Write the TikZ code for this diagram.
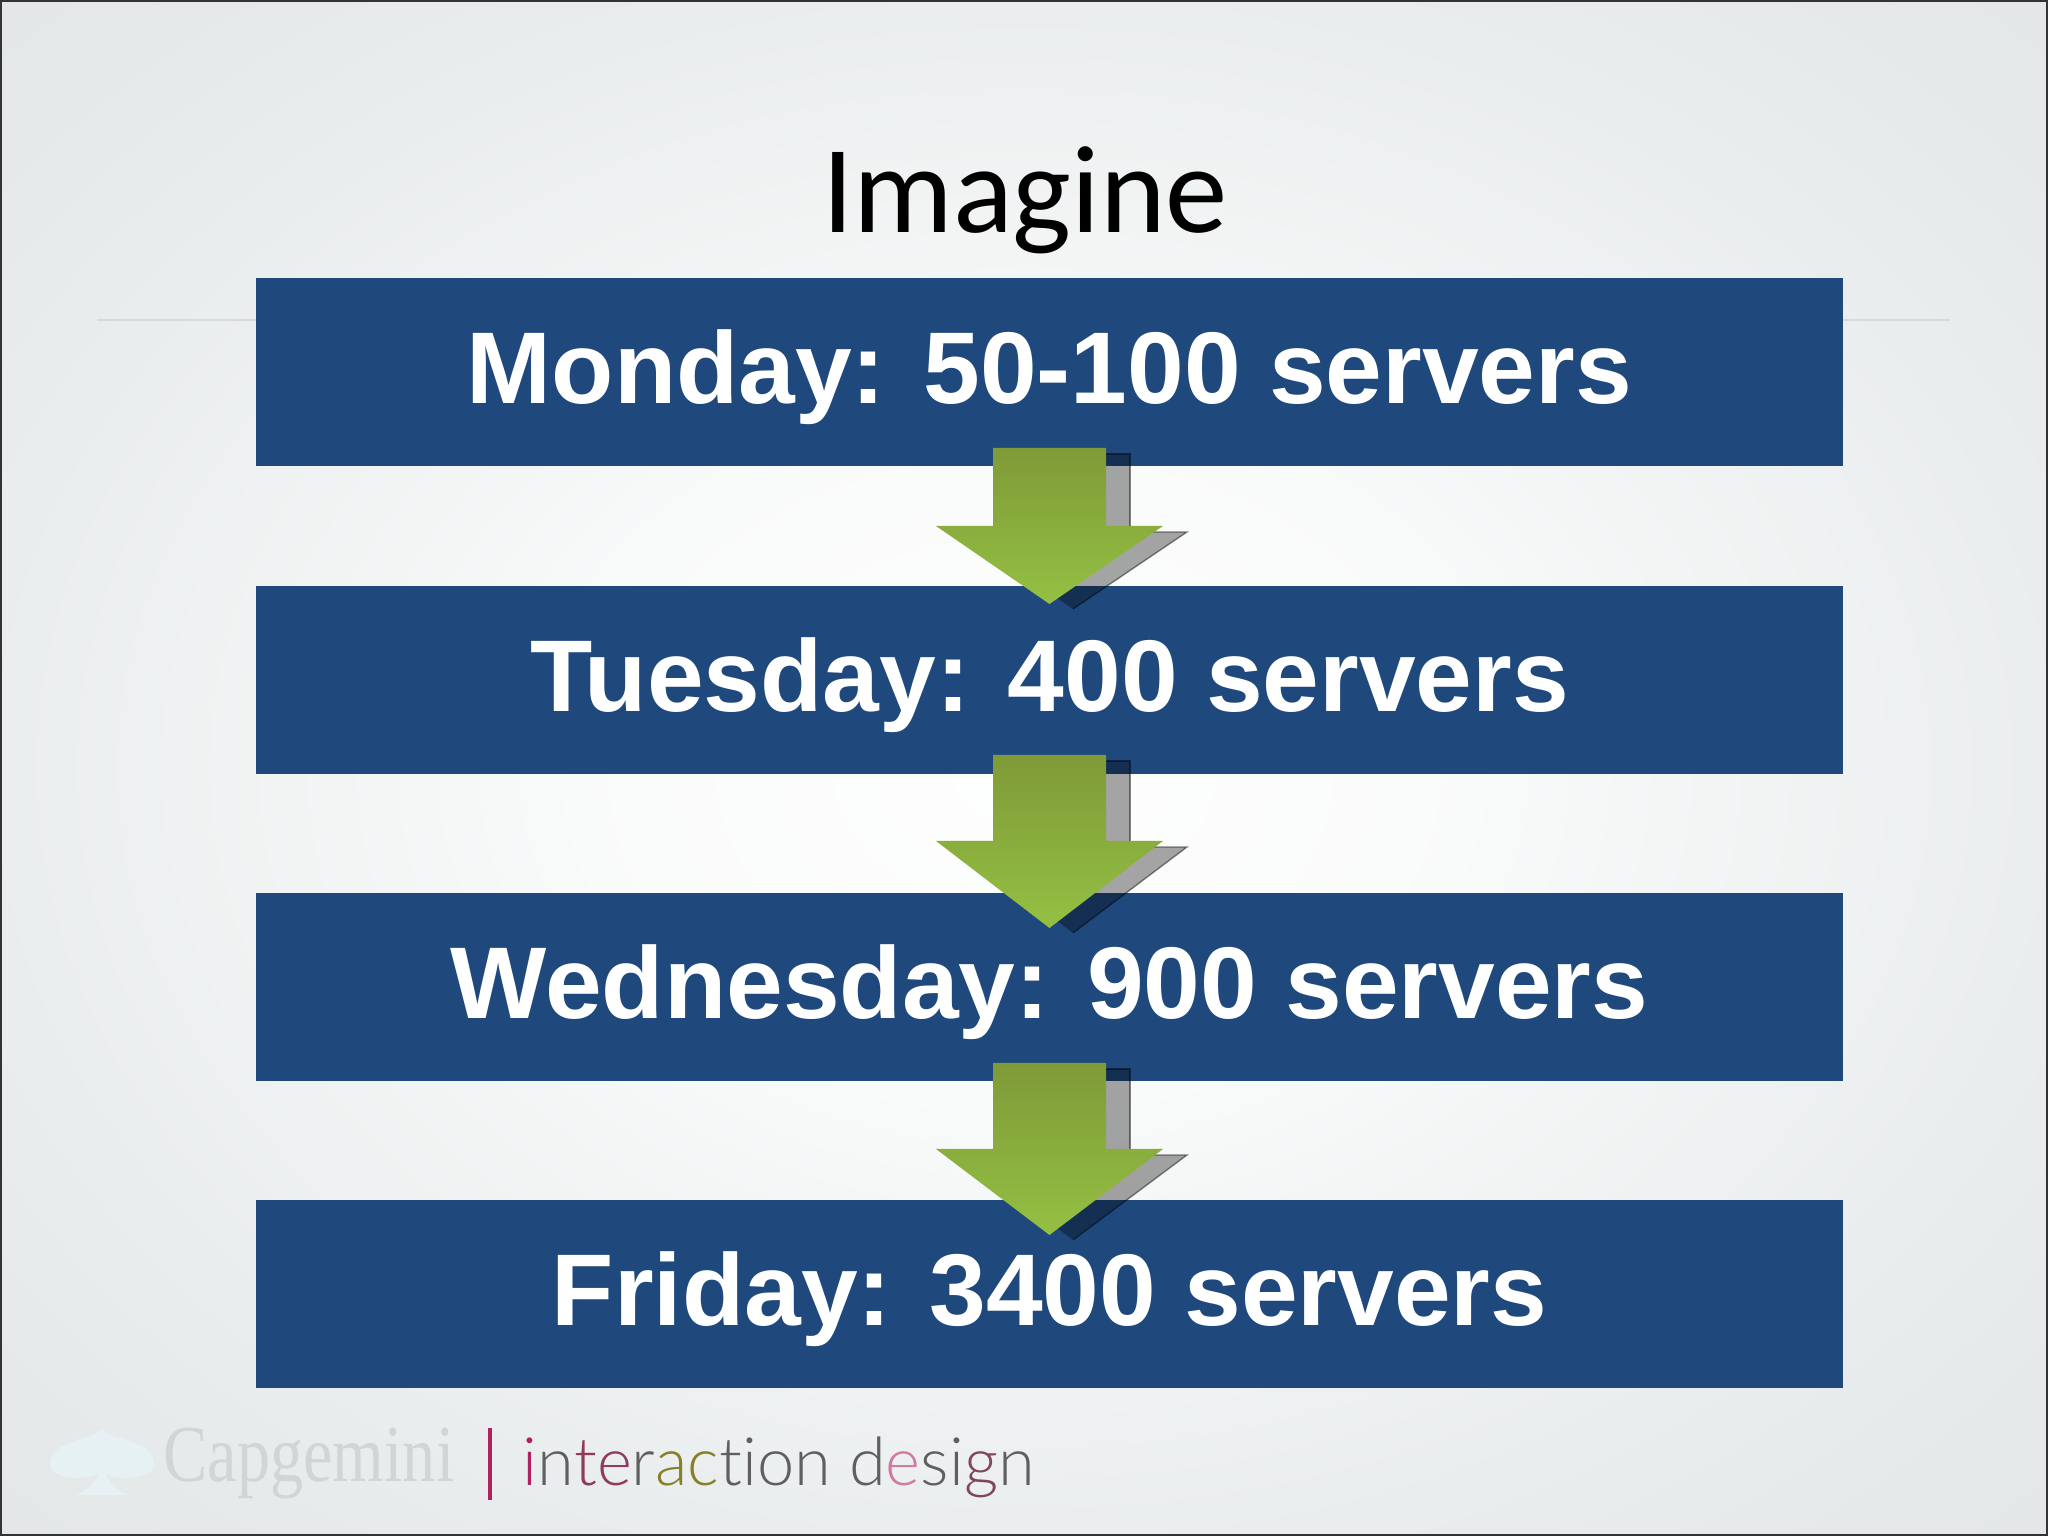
\documentclass[tikz,border=0pt]{standalone}
\usepackage{fontspec}
\setmainfont{Liberation Sans}
\newfontfamily\titlefont{Carlito}
\newfontfamily\logofont{Liberation Serif}
\newfontfamily\lightfont[Ligatures=NoCommon]{Lato Light}
\definecolor{boxblue}{HTML}{1F497D}
\definecolor{arrowtop}{HTML}{7F9A38}
\definecolor{arrowbot}{HTML}{94C043}
\definecolor{edgegrey}{HTML}{DDE2E3}
\definecolor{logogrey}{HTML}{D0D5D8}
\definecolor{spadeblue}{HTML}{E6F1F4}
\definecolor{barpink}{HTML}{B0215F}
\definecolor{designgrey}{HTML}{5F5F5F}
\pgfdeclareradialshading{slideback}{\pgfpoint{0bp}{0bp}}{%
  color(0bp)=(white!97!edgegrey); color(10bp)=(white!85!edgegrey);
  color(25bp)=(white!40!edgegrey); color(38bp)=(white!10!edgegrey);
  color(50bp)=(edgegrey); color(100bp)=(edgegrey)}
\newcommand{\blockarrow}[3]{%
  \fill[arrowshadow] (10.17,#1-0.06) -- (11.30,#1-0.06) -- (11.30,#2-0.06) -- (11.87,#2-0.06)
    -- (10.73,#3-0.05) -- (9.60,#2-0.06) -- (10.17,#2-0.06) -- cycle;
  \draw[arrowedge] (11.06,#1-0.06) -- (11.30,#1-0.06) -- (11.30,#2-0.06);
  \draw[arrowedge] (11.30,#2-0.06) -- (11.87,#2-0.06) -- (10.73,#3-0.05);
  \shade[arrowbody] (9.93,#1) -- (11.06,#1) -- (11.06,#2) -- (11.63,#2)
    -- (10.495,#3) -- (9.36,#2) -- (9.93,#2) -- cycle;
}
\begin{document}
\begin{tikzpicture}
      [daybox/.style={fill=boxblue, text=white, minimum width=15.87cm, minimum height=1.88cm,
        inner sep=0pt, text height=0.83cm, text depth=0.19cm, font=\fontsize{29}{29}\selectfont\bfseries},
      arrowshadow/.style={fill=black, fill opacity=0.35},
      arrowedge/.style={draw=black, draw opacity=0.45, line width=0.4pt},
      arrowbody/.style={top color=arrowtop, bottom color=arrowbot, draw=none},
      ]
      \useasboundingbox (0,0) rectangle (20.48,15.36);
      % background
      \shade[shading=slideback] (0,0) rectangle (20.48,15.36);
      \draw[edgegrey!96!black, line width=0.4pt] (0.97,12.16) -- (19.50,12.16);
      \draw[black!80, line width=1.2pt] (0,0) rectangle (20.48,15.36);
      \node (title) at (10.25,13.36) {\titlefont\fontsize{35.5}{35.5}\selectfont Imagine};
      % the four days
      \node[daybox] (monday) at (10.495,11.64) {Monday: 50-100 servers};
      \node[daybox] (tuesday) at (10.495,8.56) {Tuesday: 400 servers};
      \node[daybox] (wednesday) at (10.495,5.49) {Wednesday: 900 servers};
      \node[daybox] (friday) at (10.495,2.42) {Friday: 3400 servers};
      \blockarrow{10.88}{10.10}{9.32}
      \blockarrow{7.81}{6.95}{6.08}
      \blockarrow{4.73}{3.87}{3.01}
      % footer
      \fill[spadeblue] (1.02,1.08) .. controls (1.00,0.96) and (0.50,0.98) .. (0.50,0.72)
        .. controls (0.50,0.58) and (0.80,0.54) .. (0.98,0.62)
        .. controls (0.96,0.54) and (0.88,0.46) .. (0.76,0.41) -- (1.28,0.41)
        .. controls (1.16,0.46) and (1.08,0.54) .. (1.06,0.62)
        .. controls (1.24,0.54) and (1.54,0.58) .. (1.54,0.72)
        .. controls (1.54,0.98) and (1.04,0.96) .. (1.02,1.08);
      \node[anchor=base west, inner sep=0pt, text=logogrey, xscale=0.82, transform shape] (capgemini) at (1.63,0.54)
        {\logofont\fontsize{23}{23}\selectfont Capgemini};
      \node[anchor=base west, inner sep=0pt, text=designgrey] (interaction) at (5.22,0.50)
        {\lightfont\fontsize{19}{19}\selectfont \textcolor{barpink}{i}n\textcolor{barpink!60!designgrey}{te}r\textcolor{olive!70!designgrey}{ac}tion d\textcolor{barpink!60}{e}si\textcolor{barpink!40!designgrey}{g}n};
      \draw[barpink, line width=1.2pt] (4.90,0.36) -- (4.90,1.08);
\end{tikzpicture}
\end{document}
